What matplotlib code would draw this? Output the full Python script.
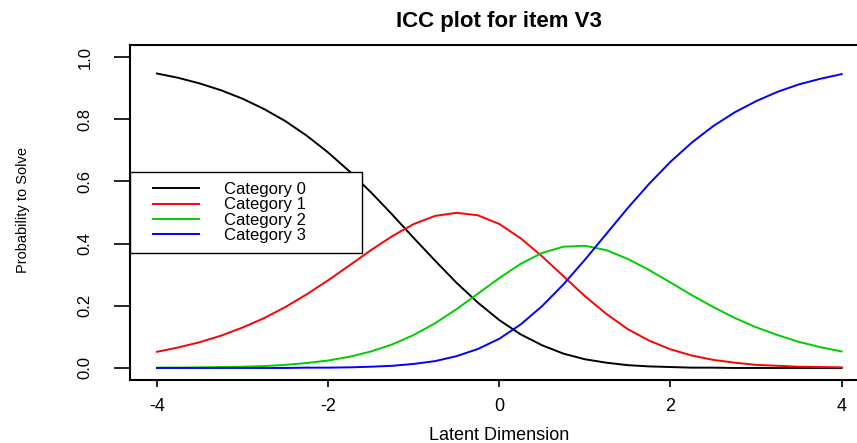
import numpy as np
import matplotlib.pyplot as plt
from matplotlib.lines import Line2D
from matplotlib.legend_handler import HandlerLine2D

plt.rcParams['font.family'] = ['Liberation Sans', 'DejaVu Sans']

# latent dimension grid and category probabilities
theta = np.linspace(-4, 4, 33)

cat0 = [0.947, 0.933, 0.915, 0.893, 0.866, 0.833, 0.794, 0.747, 0.693, 0.632,
        0.565, 0.493, 0.418, 0.345, 0.274, 0.210, 0.154, 0.108, 0.073, 0.046,
        0.028, 0.017, 0.009, 0.005, 0.003, 0.001, 0.001, 0.000, 0.000, 0.000,
        0.000, 0.000, 0.000]
cat1 = [0.052, 0.066, 0.083, 0.104, 0.130, 0.160, 0.196, 0.237, 0.282, 0.330,
        0.379, 0.424, 0.463, 0.489, 0.499, 0.491, 0.463, 0.417, 0.359, 0.295,
        0.231, 0.174, 0.125, 0.088, 0.060, 0.040, 0.026, 0.017, 0.010, 0.007,
        0.004, 0.003, 0.002]
cat2 = [0.001, 0.001, 0.002, 0.003, 0.004, 0.006, 0.010, 0.016, 0.024, 0.036,
        0.053, 0.076, 0.106, 0.144, 0.189, 0.239, 0.289, 0.335, 0.370, 0.390,
        0.393, 0.379, 0.351, 0.315, 0.275, 0.234, 0.196, 0.161, 0.131, 0.106,
        0.084, 0.067, 0.053]
cat3 = [0.000, 0.000, 0.000, 0.000, 0.000, 0.000, 0.000, 0.001, 0.001, 0.002,
        0.004, 0.007, 0.013, 0.022, 0.038, 0.061, 0.094, 0.140, 0.199, 0.269,
        0.348, 0.431, 0.514, 0.592, 0.663, 0.725, 0.778, 0.822, 0.858, 0.888,
        0.912, 0.930, 0.945]

labels = ['Category 0', 'Category 1', 'Category 2', 'Category 3']
colors = ['black', '#FF0000', '#00CD00', '#0000FF']

fig = plt.figure(figsize=(8.57, 4.43), dpi=100)
W, H = 857, 443
# axes box in pixels (right edge runs off the image like the original)
ax = fig.add_axes([129.6 / W, (H - 380.4) / H, (869 - 129.6) / W, (380.4 - 44.6) / H])

for ys, c, lab in zip([cat0, cat1, cat2, cat3], colors, labels):
    ax.plot(theta, ys, color=c, lw=1.4, label=lab)

ax.set_xlim(-4.32, 4.32)
ax.set_ylim(-0.04, 1.04)
ax.set_xticks([-4, -2, 0, 2, 4])
ax.set_xticklabels(['-4', '-2', '0', '2', '4'])
ax.set_yticks([0.0, 0.2, 0.4, 0.6, 0.8, 1.0])
ax.set_yticklabels(['0.0', '0.2', '0.4', '0.6', '0.8', '1.0'])
ax.tick_params(axis='x', length=5, width=1.2, pad=8, labelsize=13)
ax.tick_params(axis='y', length=11.5, width=1.2, pad=15, labelsize=12,
               labelrotation=90)
for t in ax.get_yticklabels():
    t.set_va('center')
for s in ax.spines.values():
    s.set_linewidth(1.5)

fig.text(23 / W, 1 - 210 / H, 'Probability to Solve', rotation=90,
         ha='center', va='center', fontsize=10.5)
fig.text(499 / W, 1 - 440 / H, 'Latent Dimension', ha='center',
         va='baseline', fontsize=13)
fig.text(499 / W, 1 - 27 / H, 'ICC plot for item V3', ha='center',
         va='baseline', fontsize=16, fontweight='bold')

leg = ax.legend(loc='upper left', bbox_to_anchor=(-4.32, 0.37, 2.72, 0.26),
                bbox_transform=ax.transData, mode='expand', borderaxespad=0,
                fontsize=12, fancybox=False, framealpha=1, edgecolor='black',
                borderpad=0.6, handlelength=4.37, handletextpad=0.72,
                labelspacing=0.02,
                handler_map={Line2D: HandlerLine2D(marker_pad=0.78, numpoints=2)})
leg.get_frame().set_linewidth(1.0)

fig.savefig('out.png', dpi=100)
